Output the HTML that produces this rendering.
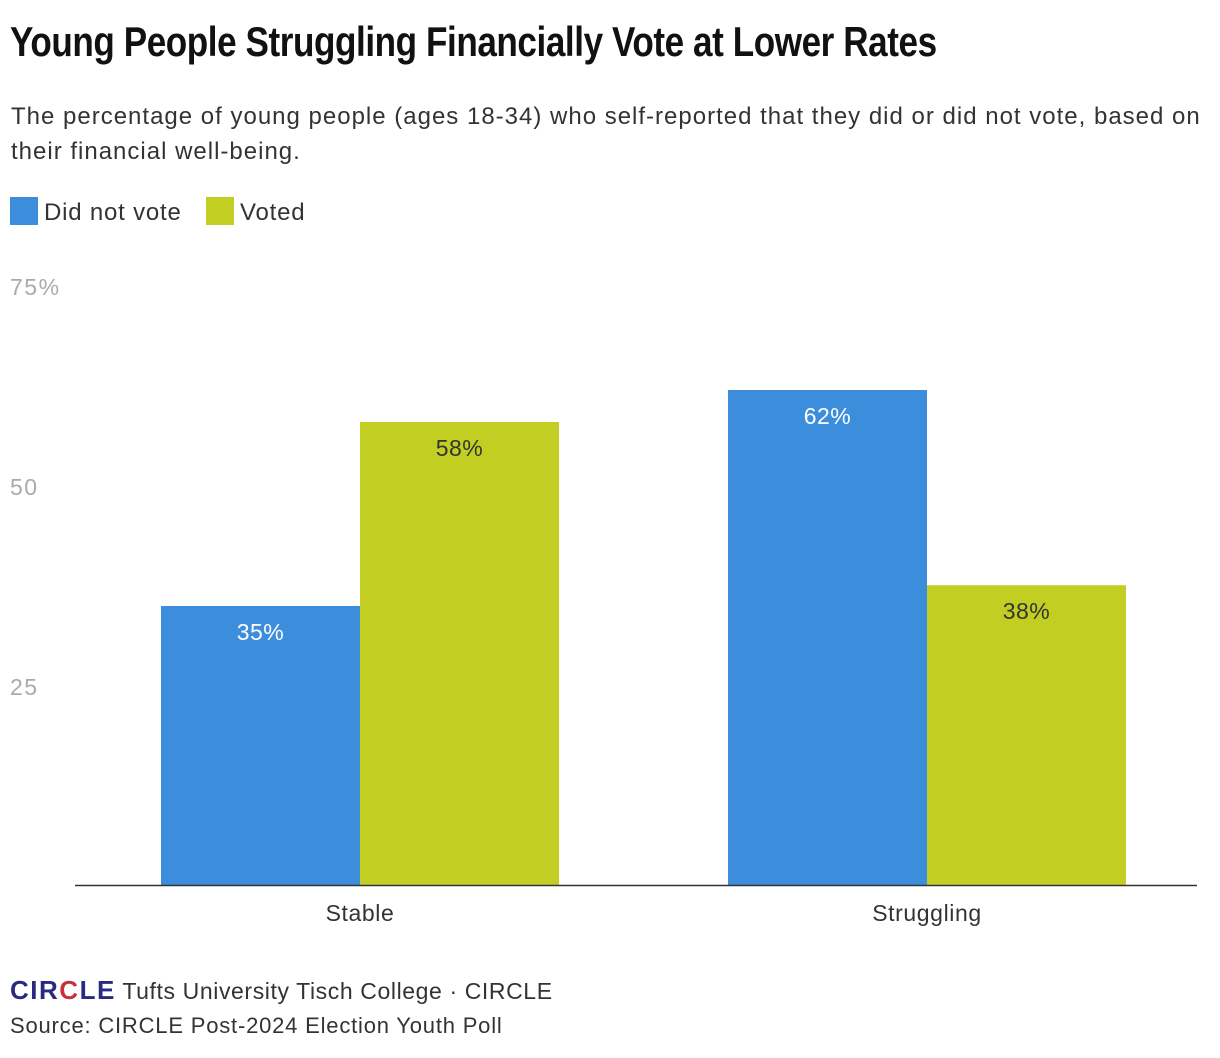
<!DOCTYPE html>
<html><head><meta charset="utf-8"><style>
body{margin:0;width:1220px;height:1058px;background:#fff;font-family:"Liberation Sans",sans-serif;color:#222;position:relative;overflow:hidden}
.t{position:absolute;white-space:nowrap}
</style></head><body>
<div class="t" style="left:10px;top:18px;font-weight:bold;font-size:42px;letter-spacing:-0.5px;color:#111;transform:scaleX(0.835);transform-origin:0 0">Young People Struggling Financially Vote at Lower Rates</div>
<div class="t" style="left:11px;top:99px;font-size:24px;letter-spacing:1px;line-height:35px;color:#333;white-space:normal;width:1205px">The percentage of young people (ages 18-34) who self-reported that they did or did not vote, based on their financial well-being.</div>
<div class="t" style="left:10px;top:197px;font-size:24px;letter-spacing:0.8px;color:#333"><span style="display:inline-block;width:28px;height:28px;background:#3d8ddd;vertical-align:-5px;margin-right:6px"></span>Did not vote</div>
<div class="t" style="left:206px;top:197px;font-size:24px;letter-spacing:0.8px;color:#333"><span style="display:inline-block;width:28px;height:28px;background:#c2ce22;vertical-align:-5px;margin-right:6px"></span>Voted</div>
<svg id="chart" width="1220" height="1058" style="position:absolute;left:0;top:0"></svg>
<div class="t" style="left:10px;top:975px;font-size:23px;letter-spacing:0.6px;color:#333"><span style="font-weight:bold;color:#2a2a80;font-size:26px;letter-spacing:1.5px">CIR<span style="color:#c8303a">C</span>LE</span> Tufts University Tisch College · CIRCLE</div>
<div class="t" style="left:10px;top:1013px;font-size:22px;letter-spacing:0.8px;color:#333">Source: CIRCLE Post-2024 Election Youth Poll</div>
<script>
const categories=["Stable","Struggling"];
const didNotVote=[35,62];
const voted=[58,37.6];
const ticks=[25,50,75];
const tickLabels=["25","50","75%"];
const svg=document.getElementById('chart');
const NS="http://www.w3.org/2000/svg";
const y=v=>886-v*8;
const catX=i=>360+i*567;
const bw=199;
function mk(t,a){const e=document.createElementNS(NS,t);for(const k in a)e.setAttribute(k,a[k]);svg.appendChild(e);return e;}
ticks.forEach((t,i)=>{const e=mk('text',{x:10,y:y(t)+9,'font-size':23,'letter-spacing':1.5,fill:'#aaa','font-family':'Liberation Sans'});e.textContent=tickLabels[i];

});
const series=[[didNotVote,'#3d8ddd',-1],[voted,'#c2ce22',0]];
categories.forEach((c,i)=>{
 series.forEach(([vals,col,off])=>{
  const x=catX(i)+off*bw;
  const r=mk('rect',{x:x,y:y(vals[i]),width:bw,height:y(0)-y(vals[i]),fill:col});
  
  
  const tx=mk('text',{x:x+bw/2,y:y(vals[i])+34,'text-anchor':'middle','font-size':23,'letter-spacing':0.5,fill:col==='#3d8ddd'?'#fff':'#333','font-family':'Liberation Sans'});
  tx.textContent=Math.round(vals[i])+'%';
  
  
 });
 const l=mk('text',{x:catX(i),y:921,'text-anchor':'middle','font-size':23,'letter-spacing':0.6,fill:'#333','font-family':'Liberation Sans'});
 l.textContent=c;
 
 
});
const ax=mk('line',{x1:75,x2:1197,y1:885.5,y2:885.5,stroke:'#333','stroke-width':1.5});


</script>
</body></html>
